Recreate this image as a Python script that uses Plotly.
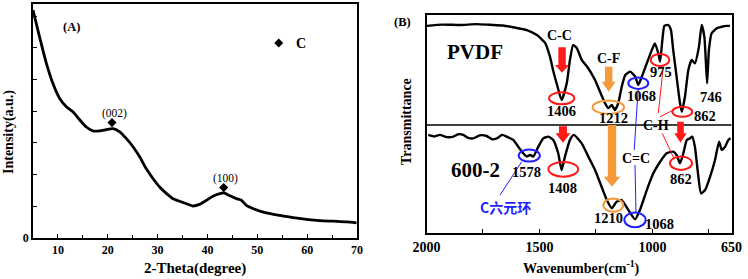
import plotly.graph_objects as go

# ---------------- Panel A : XRD ----------------
xrd_theta = [5, 6.3, 7.7, 9.0, 10.35, 11.7, 13.0, 14.4, 15.7, 17.0, 18.4, 19.7, 21.05, 22.4, 23.7,
             25.1, 26.4, 27.7, 29.1, 30.4, 31.8, 33.1, 34.4, 35.8, 37.1, 38.4, 39.8, 41.1, 42.5,
             43.3, 44.5, 45.8, 46.8, 47.8, 49.1, 51.8, 54.5, 57.2, 59.8, 62.5, 65.2, 67.9, 69.9]
xrd_intensity = [7.19, 6.35, 5.5, 4.87, 4.4, 4.14, 3.98, 3.72, 3.5, 3.38, 3.38, 3.42, 3.45, 3.35, 3.14,
                 2.87, 2.56, 2.19, 1.87, 1.61, 1.40, 1.24, 1.16, 1.08, 1.01, 1.06, 1.19, 1.32, 1.40,
                 1.42, 1.33, 1.24, 1.19, 1.03, 0.93, 0.79, 0.71, 0.64, 0.59, 0.55, 0.53, 0.51, 0.48]
xrd_peak_labels = ["(002)", "(100)"]
xrd_peak_theta = [20.85, 43.26]
xrd_peak_int = [3.64, 1.59]

# ---------------- Panel B : FTIR ----------------
pvdf_wn = [1998, 1930, 1852, 1780, 1719, 1661, 1617, 1556, 1511, 1475, 1453, 1440, 1422, 1402, 1379,
           1365, 1351, 1335, 1313, 1285, 1254, 1232, 1210, 1195, 1180, 1166, 1151, 1136, 1120, 1098,
           1076, 1063, 1047, 1025, 1003, 989, 974, 966, 956, 947, 930, 918, 908, 893, 878, 870, 856,
           841, 826, 812, 794, 782, 770, 758, 750, 738, 715, 693, 671, 657]
pvdf_t = [95.0, 95.6, 95.4, 95.8, 95.5, 95.2, 94.4, 93.1, 90.8, 87.2, 80.7, 74.8, 67.9, 61.0, 68.8,
          79.4, 86.2, 84.9, 79.4, 75.7, 70.2, 64.8, 59.6, 57.3, 58.7, 56.4, 59.6, 67.1, 72.5, 74.0,
          71.7, 67.9, 71.7, 77.8, 83.9, 87.0, 82.4, 78.6, 88.5, 95.0, 95.4, 93.1, 83.9, 71.7, 59.6,
          55.6, 62.5, 74.8, 79.4, 77.8, 85.5, 95.4, 90.0, 68.7, 83.9, 91.6, 93.9, 94.6, 95.0, 95.0]

s600_wn = [1992, 1965, 1941, 1910, 1881, 1860, 1837, 1815, 1793, 1765, 1734, 1710, 1689, 1665, 1645,
           1616, 1594, 1572, 1556, 1542, 1527, 1505, 1483, 1461, 1439, 1417, 1402, 1387, 1365, 1348,
           1313, 1284, 1254, 1225, 1202, 1180, 1158, 1136, 1107, 1077, 1055, 1025, 996, 966, 937,
           908, 893, 878, 863, 848, 834, 824, 812, 800, 785, 767, 745, 723, 705, 693, 678, 664, 654]
s600_t = [45.0, 44.3, 45.0, 44.0, 44.2, 45.3, 45.0, 43.6, 43.4, 44.8, 44.5, 43.0, 43.4, 45.0, 44.2,
          42.7, 39.6, 36.6, 35.1, 35.8, 35.1, 39.6, 43.4, 44.2, 42.7, 36.6, 28.9, 35.1, 42.7, 45.0,
          41.1, 35.1, 28.9, 21.2, 15.1, 11.3, 14.4, 15.1, 10.6, 6.3, 10.6, 19.7, 27.4, 32.7, 36.6,
          37.3, 35.8, 32.0, 36.6, 42.7, 43.4, 44.2, 39.6, 28.9, 18.2, 19.7, 25.8, 33.5, 41.9, 38.1,
          39.6, 42.7, 43.4]

x_ticks_b = [2000, 1500, 1000, 650]
x_minor_b = [1750, 1250, 750]

SERIF = "Liberation Serif"
RED = "#ff1a1a"
ORANGE = "#f59a3a"
BLUE = "#1f1fff"

fig = go.Figure()

# Panel A traces
fig.add_trace(go.Scatter(x=xrd_theta, y=xrd_intensity, mode="lines",
                         line=dict(color="black", width=2.8, shape="spline", smoothing=0.6),
                         xaxis="x", yaxis="y", showlegend=False, hoverinfo="skip"))
fig.add_trace(go.Scatter(x=xrd_peak_theta + [54.3], y=xrd_peak_int + [6.15], mode="markers",
                         marker=dict(symbol="diamond", size=7, color="black"), xaxis="x", yaxis="y",
                         showlegend=False, hoverinfo="skip"))

# Panel B traces
fig.add_trace(go.Scatter(x=pvdf_wn, y=pvdf_t, mode="lines",
                         line=dict(color="black", width=2.4, shape="spline", smoothing=0.5),
                         xaxis="x2", yaxis="y2", showlegend=False, hoverinfo="skip"))
fig.add_trace(go.Scatter(x=s600_wn, y=s600_t, mode="lines",
                         line=dict(color="black", width=2.4, shape="spline", smoothing=0.5),
                         xaxis="x2", yaxis="y2", showlegend=False, hoverinfo="skip"))

shapes = []
annotations = []

# divider line
shapes.append(dict(type="line", xref="x2 domain", yref="y2", x0=0, x1=1, y0=49.5, y1=49.5,
                   line=dict(color="black", width=1.5)))

# ellipses: (center wn, center t, half-w, half-h, color)
ellipses = [
    (1401.6, 61.8, 56, 2.75, RED), (1195.3, 57.7, 69.5, 3.07, ORANGE), (1062.5, 68.7, 44, 2.6, BLUE),
    (966.5, 79.4, 41, 2.75, RED), (867.8, 55.6, 44, 2.3, RED), (1545, 35.5, 47, 2.75, BLUE),
    (1394.5, 29.2, 66, 3.35, RED), (1173.2, 12.8, 44, 3.07, ORANGE), (1077.1, 6.0, 47, 3.35, BLUE),
    (873.5, 32.0, 48.7, 3.07, RED),
]
for cx, cy, rx, ry, col in ellipses:
    shapes.append(dict(type="circle", xref="x2", yref="y2", x0=cx + rx, x1=cx - rx, y0=cy - ry, y1=cy + ry,
                       line=dict(color=col, width=2)))

# arrows: (center, shaft top, head start, tip, shaft half, head half, color)
arrows = [
    (1400, 85.2, 77.1, 73.5, 16.4, 31, RED),
    (1396, 49.0, 45.7, 41.4, 17.7, 33, RED),
    (1193.6, 76.3, 69.4, 64.8, 16.4, 31, ORANGE),
    (1179, 49.5, 25.8, 21.2, 18.6, 36.8, ORANGE),
    (875.8, 51.0, 45.7, 41.4, 14.6, 27.4, RED),
]
for c, top, hs, tip, sh, hh, col in arrows:
    path = (f"M {c+sh},{top} L {c-sh},{top} L {c-sh},{hs} L {c-hh},{hs} L {c},{tip} "
            f"L {c+hh},{hs} L {c+sh},{hs} Z")
    shapes.append(dict(type="path", xref="x2", yref="y2", path=path, fillcolor=col, line=dict(width=0)))

# thin connector lines
connectors = [
    ((1578.6, 32.7), (1674.6, 17.4), BLUE),
    ((1062.9, 66.5), (1080.6, 38.1), BLUE),
    ((1077.1, 31.2), (1072.7, 9.2), BLUE),
    ((951.9, 76.3), (974.0, 54.9), RED),
    ((907.6, 56.4), (966.5, 53.3), RED),
    ((956.3, 45.7), (903.2, 33.8), RED),
]
for (x0, y0), (x1, y1), col in connectors:
    shapes.append(dict(type="line", xref="x2", yref="y2", x0=x0, y0=y0, x1=x1, y1=y1,
                       line=dict(color=col, width=1)))

# Panel B labels
labels_b = [
    ("1406", 1401.6, 56.1, 14.5), ("1212", 1173.2, 52.6, 14.5), ("1068", 1047.5, 62.8, 14.5),
    ("975", 962, 73.7, 14.5), ("746", 740.7, 62.2, 14.5), ("862", 767.3, 53.7, 14.5),
    ("C-C", 1412.2, 90.4, 14), ("C-F", 1195.3, 80.1, 14), ("C-H", 984.2, 49.5, 14),
    ("1578", 1556.5, 28.1, 14.5), ("1408", 1397.2, 20.5, 14.5), ("C=C", 1072.7, 34.3, 14),
    ("1210", 1195.3, 6.7, 14.5), ("1068", 966.5, 4.1, 14.5), ("862", 873.5, 24.6, 14.5),
    ("PVDF", 1785.3, 83.2, 21), ("600-2", 1785.3, 28.9, 21),
]
for t, x, y, s in labels_b:
    annotations.append(dict(text=f"<b>{t}</b>", x=x, y=y, xref="x2", yref="y2", showarrow=False,
                            xanchor="center", yanchor="middle",
                            font=dict(family=SERIF, size=s, color="black")))
annotations.append(dict(text="<b>C六元环</b>", x=1652.5, y=11.8, xref="x2", yref="y2", showarrow=False,
                        xanchor="center", yanchor="middle",
                        font=dict(family="Noto Sans CJK SC", size=14, color=BLUE)))

# Panel A labels
for t, x, y in zip(xrd_peak_labels, [21.4, 43.7], [3.94, 1.89]):
    annotations.append(dict(text=t, x=x, y=y, xref="x", yref="y", showarrow=False,
                            xanchor="center", yanchor="middle",
                            font=dict(family=SERIF, size=11.5, color="black")))
annotations.append(dict(text="<b>(A)</b>", x=12.8, y=6.66, xref="x", yref="y", showarrow=False,
                        xanchor="center", yanchor="middle",
                        font=dict(family=SERIF, size=12.5, color="black")))
annotations.append(dict(text="<b>C</b>", x=58.8, y=6.15, xref="x", yref="y", showarrow=False,
                        xanchor="center", yanchor="middle",
                        font=dict(family=SERIF, size=14, color="black")))
annotations.append(dict(text="<b>(B)</b>", x=402 / 748, y=1 - 22 / 279, xref="paper", yref="paper",
                        showarrow=False, xanchor="center", yanchor="middle",
                        font=dict(family=SERIF, size=12.5, color="black")))

# axis titles
annotations += [
    dict(text="<b>2-Theta(degree)</b>", x=195 / 748, y=1 - 268 / 279, xref="paper", yref="paper",
         showarrow=False, xanchor="center", yanchor="middle",
         font=dict(family=SERIF, size=15, color="black")),
    dict(text="<b>Intensity(a.u.)</b>", x=9 / 748, y=1 - 132 / 279, xref="paper", yref="paper",
         showarrow=False, textangle=-90, xanchor="center", yanchor="middle",
         font=dict(family=SERIF, size=14, color="black")),
    dict(text="<b>Wavenumber(cm<sup>-1</sup>)</b>", x=581 / 748, y=1 - 267 / 279, xref="paper", yref="paper",
         showarrow=False, xanchor="center", yanchor="middle",
         font=dict(family=SERIF, size=14, color="black")),
    dict(text="<b>Transmittance</b>", x=406 / 748, y=1 - 121 / 279, xref="paper", yref="paper",
         showarrow=False, textangle=-90, xanchor="center", yanchor="middle",
         font=dict(family=SERIF, size=14, color="black")),
]

fig.update_layout(
    width=748, height=279,
    margin=dict(l=0, r=0, t=0, b=0),
    paper_bgcolor="white", plot_bgcolor="white",
    showlegend=False,
    shapes=shapes, annotations=annotations,
    xaxis=dict(domain=[33 / 748, 357 / 748], range=[5, 70], tickvals=[10, 20, 30, 40, 50, 60, 70],
               ticks="inside", ticklen=4, tickcolor="black", showline=True, linecolor="black", linewidth=1.5,
               mirror=True, showgrid=False, zeroline=False,
               minor=dict(tickvals=[5, 15, 25, 35, 45, 55, 65], ticks="inside", ticklen=3, tickcolor="black"),
               tickfont=dict(family=SERIF, size=12, color="black", weight="bold"), anchor="y", automargin=False),
    yaxis=dict(domain=[1 - 238 / 279, 1 - 4 / 279], range=[0, 7.38], tickvals=[0],
               ticks="inside", ticklen=4, tickcolor="black",
               minor=dict(tickvals=[1, 2, 3, 4, 5, 6, 7], ticks="inside", ticklen=4, tickcolor="black"),
               showline=True, linecolor="black", linewidth=1.5, mirror=True, showgrid=False, zeroline=False,
               tickfont=dict(family=SERIF, size=12, color="black", weight="bold"), anchor="x", automargin=False),
    xaxis2=dict(domain=[426.5 / 748, 731.5 / 748], range=[2000, 650], tickvals=x_ticks_b,
                ticks="inside", ticklen=4, tickcolor="black", showline=True, linecolor="black", linewidth=2,
                minor=dict(tickvals=x_minor_b, ticks="inside", ticklen=4, tickcolor="black"),
                mirror=True, showgrid=False, zeroline=False,
                tickfont=dict(family=SERIF, size=14, color="black", weight="bold"), anchor="y2", automargin=False),
    yaxis2=dict(domain=[1 - 233 / 279, 1 - 15 / 279], range=[0, 100], showticklabels=False, ticks="",
                showline=True, linecolor="black", linewidth=2, mirror=True, showgrid=False, zeroline=False,
                anchor="x2", automargin=False),
)

fig.write_html("out.html", config={"displayModeBar": False},
               post_script="document.body.style.margin='0';document.body.style.overflow='hidden';")
